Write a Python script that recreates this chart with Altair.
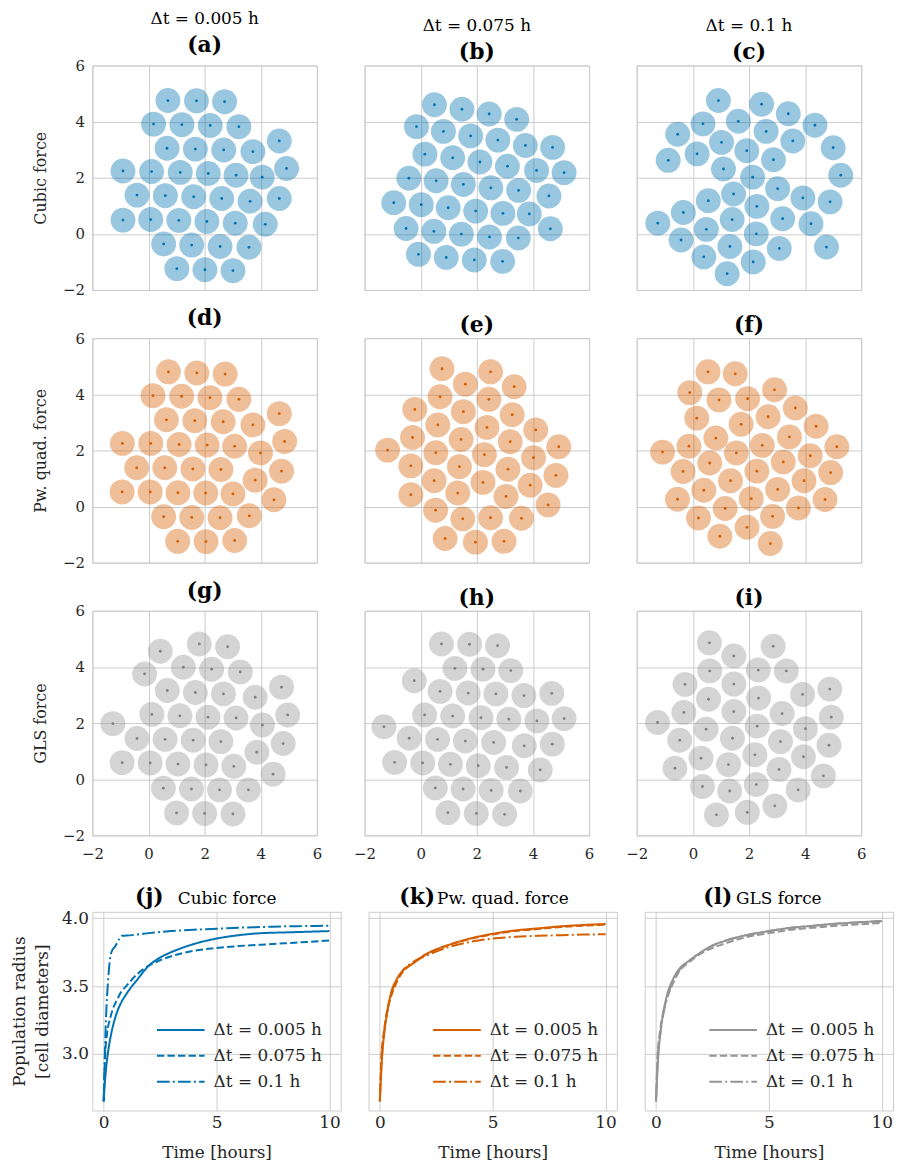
import altair as alt
import pandas as pd

FONT = "DejaVu Serif"
BLUE = "#0173b2"
ORANGE = "#d55e00"
GREY = "#949494"
GRID = "#cccccc"

# ---------------- cell positions ----------------
A_X = [0.69, 1.71, 2.71, 0.18, 1.19, 2.20, 3.22, 4.66, 0.66, 1.67, 2.68, 3.72, -0.91, 0.11, 1.13, 2.13, 3.12, 4.05, 4.92, -0.41, 0.60, 1.61, 2.61, 3.62, 4.66, -0.91, 0.08, 1.08, 2.08, 3.09, 4.16, 0.54, 1.54, 2.55, 3.58, 1.01, 2.01, 3.01]
A_Y = [4.75, 4.74, 4.71, 3.91, 3.89, 3.86, 3.82, 3.31, 3.05, 3.02, 2.99, 2.93, 2.24, 2.22, 2.19, 2.15, 2.09, 2.02, 2.33, 1.38, 1.36, 1.32, 1.26, 1.16, 1.26, 0.49, 0.51, 0.48, 0.44, 0.38, 0.34, -0.36, -0.40, -0.45, -0.48, -1.24, -1.28, -1.31]

B_X = [0.49, 1.47, 2.44, 3.42, -0.15, 0.81, 1.78, 2.75, 3.73, 4.70, 0.15, 1.14, 2.11, 3.09, 4.13, 5.11, -0.42, 0.55, 1.52, 2.50, 3.49, 4.57, -0.96, 0.02, 0.98, 1.96, 2.93, 3.87, -0.52, 0.47, 1.45, 2.45, 3.48, 4.62, -0.08, 0.91, 1.91, 2.92]
B_Y = [4.60, 4.44, 4.27, 4.08, 3.82, 3.65, 3.49, 3.34, 3.15, 3.08, 2.84, 2.71, 2.56, 2.41, 2.26, 2.18, 1.98, 1.89, 1.76, 1.64, 1.55, 1.35, 1.11, 1.04, 0.93, 0.81, 0.73, 0.71, 0.19, 0.09, -0.01, -0.11, -0.15, 0.18, -0.73, -0.84, -0.93, -0.98]

C_X = [0.91, 2.45, 3.40, 0.36, 1.62, 2.61, 4.35, -0.54, 1.02, 3.56, -0.88, 0.15, 1.92, 2.87, 5.00, 1.09, 2.13, 5.27, 1.45, 3.02, 3.92, 4.89, 0.55, 2.28, -0.34, -1.25, 0.48, 1.40, 3.20, 4.21, -0.42, 2.26, 1.32, 0.39, 3.08, 4.76, 2.15, 1.22]
C_Y = [4.75, 4.62, 4.28, 3.92, 4.01, 3.65, 3.87, 3.55, 3.26, 3.31, 2.62, 2.85, 2.96, 2.64, 3.07, 2.31, 2.02, 2.09, 1.42, 1.61, 1.28, 1.14, 1.18, 0.98, 0.76, 0.38, 0.16, 0.51, 0.54, 0.36, -0.22, 0.00, -0.45, -0.82, -0.52, -0.47, -1.00, -1.42]

D_X = [0.71, 1.72, 2.73, 0.16, 1.18, 2.19, 3.22, 4.66, 0.64, 1.65, 2.66, 3.72, 4.85, -0.93, 0.08, 1.09, 2.09, 3.07, 3.99, -0.42, 0.58, 1.58, 2.58, 3.80, 4.74, -0.94, 0.06, 1.05, 2.04, 3.01, 4.47, 0.54, 1.54, 2.55, 3.59, 1.04, 2.05, 3.07]
D_Y = [4.80, 4.76, 4.72, 3.95, 3.93, 3.88, 3.82, 3.31, 3.09, 3.06, 3.02, 2.91, 2.32, 2.25, 2.25, 2.21, 2.19, 2.15, 1.91, 1.38, 1.38, 1.34, 1.32, 0.94, 1.26, 0.52, 0.52, 0.49, 0.48, 0.45, 0.24, -0.36, -0.39, -0.40, -0.33, -1.24, -1.25, -1.21]

E_X = [0.76, 2.49, 1.59, 3.33, 0.69, 2.43, -0.21, 1.52, 3.26, 0.61, 2.36, 4.10, -0.29, 1.44, 3.19, 4.92, -1.18, 0.54, 2.27, 4.02, -0.35, 1.38, 3.11, 4.82, 0.48, 2.22, 3.90, -0.35, 1.32, 3.04, 4.54, 0.53, 1.50, 2.49, 3.59, 0.87, 1.95, 2.97]
E_Y = [4.91, 4.80, 4.36, 4.27, 3.91, 3.82, 3.46, 3.38, 3.27, 2.91, 2.82, 2.73, 2.46, 2.39, 2.31, 2.13, 2.01, 1.92, 1.85, 1.74, 1.45, 1.42, 1.33, 1.11, 0.92, 0.86, 0.76, 0.42, 0.48, 0.36, 0.06, -0.13, -0.44, -0.40, -0.42, -1.14, -1.27, -1.24]

F_X = [0.54, 1.51, -0.11, 0.93, 1.95, 2.91, 0.14, 2.68, 3.65, 1.72, 4.39, 0.82, -0.14, 2.47, 3.44, 5.13, -1.08, 1.55, 4.18, 0.60, 3.22, -0.35, 2.28, 4.91, 1.34, 3.96, 0.39, 3.02, -0.55, 2.08, 4.71, 1.15, 3.76, 0.20, 2.84, 1.93, 0.96, 2.76]
F_Y = [4.80, 4.73, 4.06, 3.80, 3.84, 4.16, 3.15, 3.20, 3.51, 2.93, 2.86, 2.44, 2.15, 2.18, 2.48, 2.13, 1.94, 1.91, 1.81, 1.55, 1.59, 1.25, 1.26, 1.21, 0.92, 0.92, 0.58, 0.61, 0.26, 0.28, 0.25, -0.07, -0.05, -0.41, -0.35, -0.74, -1.06, -1.32]

G_X = [0.42, 1.81, 2.82, -0.14, 1.24, 2.25, 3.27, 4.74, 0.67, 1.67, 2.67, 3.80, 4.96, 0.12, 1.12, 2.12, 3.12, 4.06, -1.27, -0.41, 0.59, 1.59, 2.58, 3.86, 4.80, -0.94, 0.06, 1.05, 2.05, 3.04, 4.44, 0.53, 1.53, 2.53, 3.56, 1.00, 2.00, 3.01]
G_Y = [4.56, 4.82, 4.72, 3.75, 3.99, 3.92, 3.82, 3.28, 3.16, 3.09, 3.04, 2.92, 2.29, 2.31, 2.26, 2.21, 2.18, 1.93, 1.98, 1.45, 1.42, 1.39, 1.34, 0.96, 1.27, 0.59, 0.58, 0.54, 0.51, 0.46, 0.18, -0.32, -0.35, -0.38, -0.38, -1.20, -1.22, -1.24]

H_X = [0.74, 1.74, 2.74, 1.22, 2.22, 3.21, -0.23, 0.69, 1.69, 2.68, 3.68, 4.67, 0.14, 1.14, 2.15, 3.14, 4.14, 5.11, -1.31, -0.41, 0.60, 1.59, 2.60, 3.69, 4.69, -0.93, 0.07, 1.06, 2.05, 3.06, 4.26, 0.52, 1.51, 2.51, 3.55, 0.97, 1.98, 2.99]
H_Y = [4.82, 4.81, 4.76, 3.95, 3.92, 3.87, 3.51, 3.13, 3.07, 3.04, 2.98, 3.06, 2.29, 2.25, 2.19, 2.14, 2.08, 2.16, 1.87, 1.46, 1.42, 1.36, 1.31, 1.19, 1.25, 0.60, 0.58, 0.53, 0.48, 0.42, 0.33, -0.31, -0.35, -0.40, -0.42, -1.19, -1.22, -1.25]

I_X = [0.59, 1.46, 2.86, 0.60, 2.33, 3.33, -0.28, 1.46, 0.56, 2.34, 3.91, 4.88, -0.32, 1.46, 3.18, 4.93, -1.26, 0.47, 2.29, 4.01, -0.47, 1.41, 3.12, 4.85, 0.29, 2.21, 3.94, -0.64, 1.27, 3.07, 4.65, 0.34, 1.31, 2.26, 3.75, 0.84, 1.94, 2.92]
I_Y = [4.86, 4.39, 4.74, 3.86, 3.89, 3.86, 3.38, 3.39, 2.85, 2.89, 3.02, 3.21, 2.38, 2.41, 2.34, 2.21, 2.02, 1.78, 1.89, 1.80, 1.39, 1.46, 1.34, 1.21, 0.75, 0.87, 0.80, 0.39, 0.52, 0.35, 0.12, -0.26, -0.42, -0.19, -0.38, -1.27, -1.18, -0.95]

# ---------------- population radius time series ----------------
T_FINE = [0, 0.05, 0.1, 0.2, 0.3, 0.5, 0.75, 1.0, 1.5, 2.0, 2.5, 3.0, 4.0, 5.0, 6.0, 7.0, 8.0, 9.0, 10.0]
T_MED = [0, 0.075, 0.15, 0.3, 0.45, 0.6, 0.75, 1.0, 1.5, 2.0, 2.5, 3.0, 4.0, 5.0, 6.0, 7.0, 8.0, 9.0, 10.0]
T_COARSE = [0, 0.1, 0.2, 0.3, 0.4, 0.5, 0.6, 0.7, 0.8, 1.0, 1.5, 2.0, 3.0, 4.0, 5.0, 6.0, 7.0, 8.0, 9.0, 10.0]

J_SOLID = [2.65, 2.78, 2.88, 3.02, 3.12, 3.26, 3.37, 3.44, 3.55, 3.65, 3.71, 3.75, 3.81, 3.85, 3.875, 3.89, 3.895, 3.90, 3.905]
J_DASH = [2.65, 3.02, 3.15, 3.27, 3.35, 3.40, 3.45, 3.50, 3.59, 3.65, 3.69, 3.72, 3.76, 3.78, 3.795, 3.805, 3.815, 3.825, 3.835]
J_DD = [2.65, 3.25, 3.55, 3.72, 3.77, 3.79, 3.82, 3.85, 3.87, 3.872, 3.88, 3.89, 3.905, 3.915, 3.922, 3.93, 3.935, 3.94, 3.942, 3.945]

K_SOLID = [2.65, 2.83, 2.98, 3.16, 3.28, 3.45, 3.55, 3.61, 3.67, 3.73, 3.77, 3.80, 3.85, 3.885, 3.91, 3.925, 3.94, 3.95, 3.957]
K_DASH = [2.65, 3.00, 3.12, 3.30, 3.40, 3.47, 3.53, 3.60, 3.67, 3.73, 3.77, 3.80, 3.848, 3.88, 3.905, 3.92, 3.935, 3.945, 3.952]
K_DD = [2.65, 3.00, 3.17, 3.28, 3.37, 3.44, 3.49, 3.53, 3.56, 3.61, 3.68, 3.72, 3.785, 3.825, 3.85, 3.863, 3.87, 3.875, 3.879, 3.882]

L_SOLID = [2.65, 2.83, 2.98, 3.16, 3.28, 3.44, 3.55, 3.62, 3.69, 3.75, 3.80, 3.83, 3.875, 3.905, 3.93, 3.945, 3.96, 3.97, 3.98]
L_DASH = [2.65, 3.00, 3.13, 3.29, 3.39, 3.46, 3.52, 3.60, 3.68, 3.74, 3.78, 3.81, 3.86, 3.89, 3.915, 3.93, 3.945, 3.955, 3.965]
L_DD = [2.65, 3.02, 3.16, 3.27, 3.35, 3.42, 3.47, 3.51, 3.55, 3.61, 3.69, 3.75, 3.83, 3.875, 3.905, 3.93, 3.945, 3.96, 3.97, 3.978]

DT_LABELS = ["Δt = 0.005 h", "Δt = 0.075 h", "Δt = 0.1 h"]
ROW_NAMES = ["Cubic force", "Pw. quad. force", "GLS force"]
LETTERS = ["(a)", "(b)", "(c)", "(d)", "(e)", "(f)", "(g)", "(h)", "(i)"]
BOTTOM_LETTERS = ["(j)", "(k)", "(l)"]
ROW_COLORS = [BLUE, ORANGE, GREY]
DOT_COLORS = [BLUE, ORANGE, "#808080"]

CELLS = [[(A_X, A_Y), (B_X, B_Y), (C_X, C_Y)],
         [(D_X, D_Y), (E_X, E_Y), (F_X, F_Y)],
         [(G_X, G_Y), (H_X, H_Y), (I_X, I_Y)]]

PANEL = 226
TICKS = [-2, 0, 2, 4, 6]


def cell_panel(r, c):
    xs, ys = CELLS[r][c]
    df = pd.DataFrame({"x": xs, "y": ys})
    last = (r == 2)
    # upper rows keep invisible labels (tucked inside the frame) so every row
    # has the same horizontal extent
    xaxis = alt.Axis(values=TICKS, title=None, labelFlush=False,
                     labelOpacity=1 if last else 0,
                     labelPadding=11 if last else -20)
    # a leading blank title line keeps the left edge in step with the bottom row
    yaxis = alt.Axis(values=TICKS, labels=(c == 0),
                     title=[" ", ROW_NAMES[r]] if c == 0 else None,
                     labelPadding=8, titlePadding=14, titleLineHeight=24)
    xenc = alt.X("x:Q", scale=alt.Scale(domain=[-2, 6], nice=False), axis=xaxis)
    yenc = alt.Y("y:Q", scale=alt.Scale(domain=[-2, 6], nice=False), axis=yaxis)
    base = alt.Chart(df)
    cells = base.mark_circle(size=629, opacity=0.4, color=ROW_COLORS[r]).encode(x=xenc, y=yenc)
    dots = base.mark_circle(size=8, opacity=1, color=DOT_COLORS[r]).encode(x=xenc, y=yenc)
    letter = LETTERS[3 * r + c]
    if r == 0:
        title = alt.TitleParams(text=DT_LABELS[c], subtitle=letter, fontSize=17, fontWeight="normal",
                                subtitleFontSize=22, subtitleFontWeight="bold", subtitleColor="black",
                                subtitlePadding=7, offset=2, frame="group")
    else:
        title = alt.TitleParams(text=letter, fontSize=22, fontWeight="bold", offset=1, frame="group")
    return alt.layer(cells, dots).properties(width=PANEL, height=PANEL, title=title)


def radius_panel(i, color, name, series):
    times = [T_FINE, T_MED, T_COARSE]
    rows = []
    for lab, t, rr in zip(DT_LABELS, times, series):
        for tv, rv in zip(t, rr):
            rows.append({"t": tv, "r": rv, "dt": lab})
    df = pd.DataFrame(rows)
    yaxis = alt.Axis(values=[3.0, 3.5, 4.0], format=".1f", labels=(i == 0), labelPadding=4,
                     labelFontSize=17,
                     title=["Population radius", "[cell diameters]"] if i == 0 else None,
                     titlePadding=10, titleFontSize=17, titleLineHeight=23)
    lines = alt.Chart(df).mark_line(strokeWidth=2, color=color, interpolate="monotone").encode(
        x=alt.X("t:Q", scale=alt.Scale(domain=[-0.5, 10.5], nice=False),
                axis=alt.Axis(values=[0, 5, 10], title="Time [hours]", labelPadding=4, labelFontSize=17,
                              labelFlush=False, titleFontSize=17, titlePadding=14)),
        y=alt.Y("r:Q", scale=alt.Scale(domain=[2.583, 4.047], nice=False, zero=False), axis=yaxis),
        strokeDash=alt.StrokeDash("dt:N", sort=DT_LABELS,
                                  scale=alt.Scale(domain=DT_LABELS, range=[[1, 0], [7.4, 3.2], [12.8, 3.2, 2, 3.2]]),
                                  legend=alt.Legend(title=None, orient="none", legendX=64, legendY=108,
                                                    labelFont=FONT, labelFontSize=17, labelColor="#262626",
                                                    symbolType="M-1,0H3.8", symbolSize=400,
                                                    symbolStrokeWidth=2, symbolStrokeColor=color,
                                                    labelOffset=36, rowPadding=7)),
    )
    tdf = pd.DataFrame({"letter": [BOTTOM_LETTERS[i]], "name": [name]})
    lx = [43, 31, 59][i]
    nx = [86, 69, 92][i]
    let = alt.Chart(tdf).mark_text(font=FONT, fontSize=22, fontWeight="bold", align="left",
                                   baseline="alphabetic", color="black").encode(
        text="letter:N", x=alt.value(lx), y=alt.value(-8))
    nm = alt.Chart(tdf).mark_text(font=FONT, fontSize=17, align="left",
                                  baseline="alphabetic", color="black").encode(
        text="name:N", x=alt.value(nx), y=alt.value(-8))
    return alt.layer(lines, let, nm).properties(width=250, height=200)


top_rows = [alt.hconcat(*[cell_panel(r, c) for c in range(3)], spacing=30) for r in range(3)]
top = alt.vconcat(*top_rows, spacing=7.5)

bottom = alt.hconcat(
    radius_panel(0, BLUE, ROW_NAMES[0], [J_SOLID, J_DASH, J_DD]),
    radius_panel(1, ORANGE, ROW_NAMES[1], [K_SOLID, K_DASH, K_DD]),
    radius_panel(2, GREY, ROW_NAMES[2], [L_SOLID, L_DASH, L_DD]),
    spacing=26,
).resolve_scale(strokeDash="independent").resolve_legend(strokeDash="independent")

chart = alt.vconcat(top, bottom, spacing=23).properties(
    padding={"left": 8, "top": 5, "right": 5, "bottom": 5}
).configure_view(
    stroke=GRID, strokeWidth=1
).configure_axis(
    grid=True, gridColor=GRID, gridWidth=1, domain=False, ticks=False,
    labelFont=FONT, labelFontSize=15, labelColor="#262626",
    titleFont=FONT, titleFontSize=16, titleFontWeight="normal", titleColor="#262626",
).configure_title(
    font=FONT, color="black", subtitleFont=FONT, anchor="middle"
).configure_legend(
    padding=0
)

chart.save("out.html", embed_options={"renderer": "svg", "actions": False})
